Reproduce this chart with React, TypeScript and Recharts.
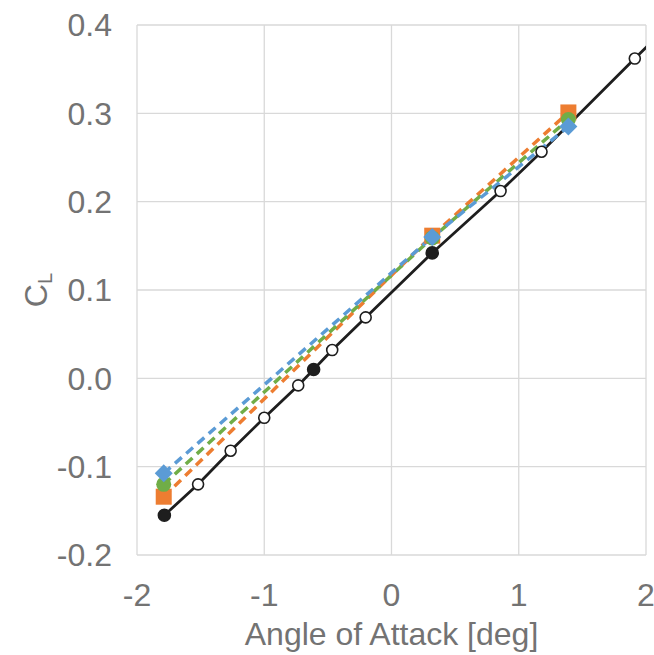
import React from 'react';
import { LineChart, Line, XAxis, YAxis, CartesianGrid } from 'recharts';

const xTicks = [-2, -1, 0, 1, 2];
const yTicks = [-0.2, -0.1, 0, 0.1, 0.2, 0.3, 0.4];

const refAlpha = [-1.785, -1.52, -1.264, -1.0, -0.733, -0.612, -0.466, -0.203, 0.32, 0.857, 1.179, 1.912, 2.2];
const refCL = [-0.155, -0.12, -0.082, -0.0447, -0.008, 0.01, 0.032, 0.069, 0.142, 0.212, 0.2565, 0.362, 0.403];
const refFilled = [true, false, false, false, false, true, false, false, true, false, false, false, false];

const caseAlpha = [-1.79, 0.32, 1.39];
const orangeCL = [-0.134, 0.1615, 0.301];
const greenCL = [-0.12, 0.159, 0.293];
const blueCL = [-0.1075, 0.16, 0.285];

const FONT = '"Liberation Sans", Arial, sans-serif';
const TEXT = '#737373';
const GRID = '#d9d9d9';
const BLACK = '#1e1e1e';
const ORANGE = '#ED7D31';
const GREEN = '#70AD47';
const BLUE = '#5B9BD5';

const refData = refAlpha.map((x, i) => ({ x, y: refCL[i], filled: refFilled[i] }));
const orangeData = caseAlpha.map((x, i) => ({ x, y: orangeCL[i] }));
const greenData = caseAlpha.map((x, i) => ({ x, y: greenCL[i] }));
const blueData = caseAlpha.map((x, i) => ({ x, y: blueCL[i] }));

const RefDot = (p: any) => {
  const { cx, cy, index, payload } = p;
  if (cx == null || cy == null) return <g key={`r${index}`} />;
  return (
    <circle
      key={`r${index}`}
      cx={cx}
      cy={cy}
      r={payload.filled ? 6 : 5.5}
      fill={payload.filled ? BLACK : '#ffffff'}
      stroke={BLACK}
      strokeWidth={1.6}
    />
  );
};

const SquareDot = (p: any) => {
  const { cx, cy, index } = p;
  const s = 8;
  return <rect key={`o${index}`} x={cx - s} y={cy - s} width={2 * s} height={2 * s} fill={ORANGE} />;
};

const CircleDot = (p: any) => {
  const { cx, cy, index } = p;
  return <circle key={`g${index}`} cx={cx} cy={cy} r={7.5} fill={GREEN} />;
};

const DiamondDot = (p: any) => {
  const { cx, cy, index } = p;
  const s = 9;
  return (
    <polygon
      key={`b${index}`}
      points={`${cx},${cy - s} ${cx + s},${cy} ${cx},${cy + s} ${cx - s},${cy}`}
      fill={BLUE}
    />
  );
};

const YLabel = (props: any) => {
  const vb = props.viewBox || {};
  const cx = 36;
  const cy = (vb.y ?? 25) + (vb.height ?? 530) / 2;
  return (
    <text
      x={cx}
      y={cy}
      transform={`rotate(-90, ${cx}, ${cy})`}
      textAnchor="middle"
      fontFamily={FONT}
      fill={TEXT}
      fontSize={32}
      dominantBaseline="central"
    >
      C<tspan fontSize={20} dy={9}>L</tspan>
    </text>
  );
};

const XLabel = (props: any) => {
  const vb = props.viewBox || {};
  const cx = (vb.x ?? 137) + (vb.width ?? 509) / 2;
  return (
    <text x={cx} y={645} textAnchor="middle" fontFamily={FONT} fill={TEXT} fontSize={32}>
      Angle of Attack [deg]
    </text>
  );
};

export default function App() {
  return (
    <div style={{ position: 'absolute', left: 0, top: 0, width: 654, height: 655, background: '#fff' }}>
      <LineChart width={654} height={655} margin={{ top: 25, right: 8, bottom: 0, left: 0 }}>
        <CartesianGrid stroke={GRID} strokeWidth={1.3} horizontalValues={yTicks} verticalValues={xTicks} />
        <XAxis
          type="number"
          dataKey="x"
          domain={[-2, 2]}
          ticks={xTicks}
          allowDataOverflow
          height={100}
          axisLine={false}
          tickLine={false}
          tickSize={0}
          tickMargin={28}
          tick={{ fill: TEXT, fontSize: 32, fontFamily: FONT }}
          tickFormatter={(v: number) => String(v)}
          label={{ content: XLabel }}
        />
        <YAxis
          type="number"
          dataKey="y"
          domain={[-0.2, 0.4]}
          ticks={yTicks}
          allowDataOverflow
          width={137}
          axisLine={false}
          tickLine={false}
          tickSize={0}
          tickMargin={25}
          tick={{ fill: TEXT, fontSize: 32, fontFamily: FONT }}
          tickFormatter={(v: number) => v.toFixed(1)}
          label={{ content: YLabel }}
        />
        <Line
          data={refData}
          dataKey="y"
          type="linear"
          stroke={BLACK}
          strokeWidth={2.8}
          dot={RefDot}
          activeDot={false}
          isAnimationActive={false}
        />
        <Line
          data={orangeData}
          dataKey="y"
          type="linear"
          stroke={ORANGE}
          strokeWidth={3.5}
          strokeDasharray="9 6"
          dot={SquareDot}
          activeDot={false}
          isAnimationActive={false}
        />
        <Line
          data={greenData}
          dataKey="y"
          type="linear"
          stroke={GREEN}
          strokeWidth={3.5}
          strokeDasharray="9 6"
          dot={CircleDot}
          activeDot={false}
          isAnimationActive={false}
        />
        <Line
          data={blueData}
          dataKey="y"
          type="linear"
          stroke={BLUE}
          strokeWidth={3.5}
          strokeDasharray="9 6"
          dot={DiamondDot}
          activeDot={false}
          isAnimationActive={false}
        />
      </LineChart>
    </div>
  );
}
